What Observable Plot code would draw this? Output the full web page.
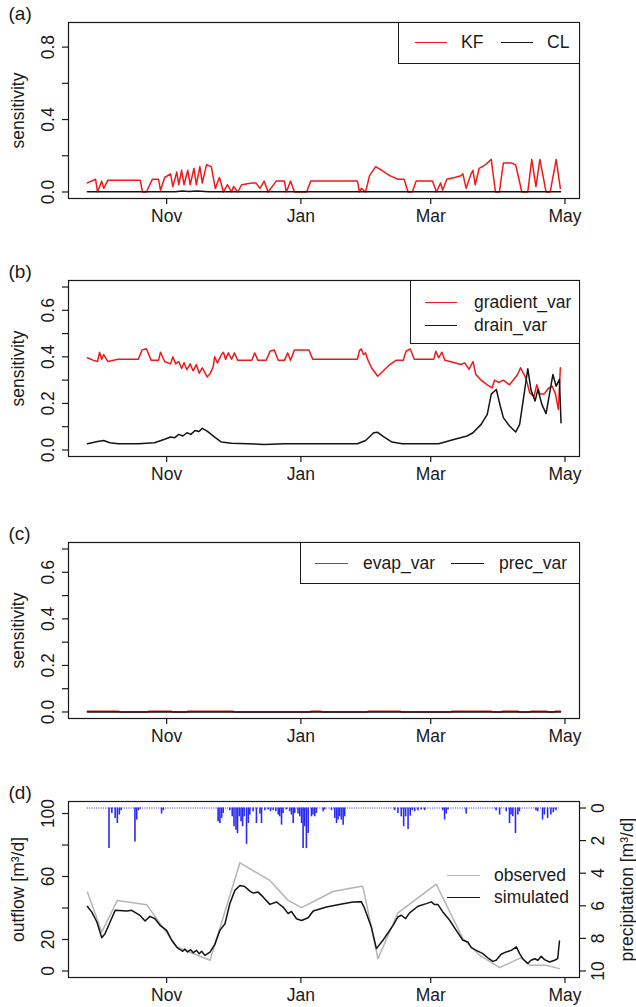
<!DOCTYPE html>
<html>
<head>
<meta charset="utf-8">
<script src="https://cdn.jsdelivr.net/npm/d3@7"></script>
<script src="https://cdn.jsdelivr.net/npm/@observablehq/plot@0.6"></script>
<style>
  html, body { margin: 0; padding: 0; background: #fff; }
  body { font-family: "Liberation Sans", Arial, sans-serif; }
  #root { position: relative; width: 636px; height: 1007px; overflow: hidden; background: #fff; }
  .panel { position: absolute; left: 0; width: 636px; }
  .legend-box { position: absolute; background: #fff; border: 1.2px solid #1a1a1a; box-sizing: border-box; }
  .lg-line { position: absolute; height: 0; }
  .lg-text { position: absolute; font-size: 17.5px; line-height: 1; color: #1a1a1a; transform: translateY(-50%); white-space: nowrap; }
</style>
</head>
<body>
<div id="root"></div>
<script>
// ---------------- DATA (day 0 = first simulated day, 26 Sep) ----------------
const startDate = "2010-09-26";
const lastDay = 215;

// x axis
const monthTickDates = ["2010-11-01", "2011-01-01", "2011-03-01", "2011-05-01"];
const monthTickLabels = ["Nov", "Jan", "Mar", "May"];

// y axes
const ylimA = [0, 0.9];
const yTicksA = [0, 0.2, 0.4, 0.6, 0.8];
const yLabelsA = ["0.0", "", "0.4", "", "0.8"];
const ylimBC = [0, 0.7];
const yTicksBC = [0, 0.1, 0.2, 0.3, 0.4, 0.5, 0.6, 0.7];
const yLabelsBC = ["0.0", "", "0.2", "", "0.4", "", "0.6", ""];
const ylimD = [0, 103.5];
const yTicksD = [0, 20, 40, 60, 80, 100];
const yLabelsD = ["0", "20", "", "60", "", "100"];
const precipLim = [0, 10];
const precipTicks = [0, 2, 4, 6, 8, 10];
const precipLabels = ["0", "2", "4", "6", "8", "10"];

// panel (a): [day, sensitivity]
const kf = [[0,0.05],[3.7,0.07],[4.6,0.0],[6.5,0.06],[7.4,0.02],[9.3,0.065],[24,0.065],[25,0.0],[26.8,0.0],[29.5,0.07],[32.3,0.07],[33.2,0.01],[35.1,0.08],[37.8,0.10],[38.8,0.03],[40.6,0.11],[41.5,0.04],[42.8,0.12],[43.9,0.04],[45.6,0.12],[46.7,0.04],[48.4,0.13],[49.5,0.04],[51.1,0.14],[52.2,0.05],[54.1,0.15],[56.3,0.14],[58.1,0.02],[60,0.08],[61.8,0.0],[63.6,0.04],[65.5,0.0],[66.4,0.03],[68.3,0.0],[70.1,0.04],[74.7,0.05],[76.6,0.05],[78.4,0.02],[80.3,0.06],[82.1,0.0],[85.8,0.06],[89.5,0.06],[90.4,0.0],[92.3,0.06],[94.1,0.0],[99.6,0.0],[101.5,0.06],[122.7,0.06],[123.6,0.0],[124.5,0.02],[126.4,0.0],[128.2,0.09],[131,0.14],[133.7,0.12],[137.4,0.09],[141.1,0.07],[143.9,0.07],[145.7,0.0],[147.6,0.0],[149.4,0.06],[156.8,0.06],[158.6,0.0],[160.5,0.05],[161.4,0.01],[163.3,0.07],[166.9,0.08],[169.7,0.09],[170.6,0.10],[172.1,0.02],[174.3,0.10],[175.2,0.12],[176.2,0.04],[178,0.13],[180.8,0.15],[183.5,0.18],[185.4,0.0],[187.2,0.0],[189,0.16],[192.8,0.16],[194.6,0.15],[197.4,0.0],[200.1,0.0],[201.9,0.18],[203.8,0.03],[205.6,0.18],[208.4,0.0],[210.3,0.0],[213,0.18],[214.9,0.02]];
const cl = [[0,0.001],[40,0.001],[43,0.005],[46,0.002],[50,0.005],[55,0.001],[215,0.001]];

// panel (b)
const gradientVar = [[0,0.396],[2.8,0.385],[4.6,0.38],[5.5,0.42],[6.5,0.39],[7.4,0.41],[9.3,0.38],[13.9,0.39],[23.1,0.39],[24.9,0.43],[26.8,0.435],[29,0.385],[32.3,0.385],[33.2,0.42],[35.1,0.38],[37.8,0.37],[38.8,0.40],[40.1,0.37],[41.5,0.38],[42.8,0.35],[43.9,0.375],[45.2,0.345],[46.7,0.37],[48,0.34],[49.5,0.367],[50.8,0.33],[52.2,0.353],[54.4,0.314],[55.9,0.33],[57.2,0.36],[57.8,0.40],[59.1,0.374],[60.9,0.41],[61.8,0.42],[62.8,0.39],[64,0.417],[65.5,0.39],[66.8,0.417],[68.3,0.385],[74.7,0.385],[76,0.417],[77.5,0.385],[81.2,0.385],[83,0.424],[84.9,0.43],[86.7,0.385],[89.5,0.385],[91,0.417],[92.3,0.385],[94.1,0.43],[100.6,0.43],[102.4,0.39],[122.7,0.39],[123.6,0.427],[124.5,0.434],[125.4,0.41],[126.4,0.417],[127.3,0.39],[129.1,0.353],[131.9,0.317],[137.4,0.367],[140.2,0.385],[143.5,0.385],[144.8,0.424],[146.7,0.434],[148.5,0.39],[157.4,0.39],[158.3,0.424],[159.6,0.396],[161.1,0.42],[162.4,0.385],[166,0.377],[169.7,0.367],[171.5,0.374],[173.4,0.346],[175.2,0.38],[176.5,0.324],[178.9,0.30],[181.7,0.28],[183.9,0.267],[185,0.30],[186.8,0.29],[189,0.30],[191.8,0.28],[195.5,0.324],[196.8,0.353],[199.2,0.31],[201,0.245],[202.9,0.23],[204.2,0.28],[205.6,0.24],[207.5,0.24],[209.4,0.264],[211.2,0.274],[212.7,0.24],[214,0.174],[214.9,0.353]];
const drainVar = [[0,0.027],[4.6,0.036],[7.4,0.041],[10.2,0.031],[13.9,0.027],[23.1,0.027],[30.5,0.031],[35.1,0.046],[37.8,0.056],[39.7,0.053],[41.5,0.067],[43.4,0.06],[45.2,0.074],[47,0.067],[48.9,0.084],[50.7,0.079],[52.2,0.093],[54.4,0.081],[58.1,0.053],[60.9,0.034],[65.5,0.029],[80.3,0.024],[89.5,0.027],[107.9,0.027],[122.7,0.027],[126.4,0.041],[130.1,0.074],[131.9,0.076],[134.7,0.056],[138.4,0.034],[143,0.027],[159.6,0.027],[166.9,0.046],[172.5,0.06],[175.2,0.074],[178.9,0.11],[181.7,0.153],[183.5,0.24],[185.8,0.26],[187.6,0.189],[189,0.139],[191.8,0.103],[194.6,0.077],[196.4,0.11],[198.3,0.231],[200.1,0.349],[201.6,0.256],[203.4,0.21],[204.7,0.26],[206.5,0.196],[208.4,0.156],[209.4,0.21],[211.5,0.324],[213,0.274],[214.5,0.303],[215.2,0.117]];

// panel (c)
const evapVar = [[0,0.003],[14,0.003],[15,0],[27,0],[28,0.003],[38,0.003],[39,0],[45,0],[45.5,0.003],[66,0.003],[67,0],[101,0],[101.5,0.003],[106,0.003],[107,0],[127,0],[127.5,0.003],[142,0.003],[143,0],[165,0],[165.5,0.003],[183.5,0.003],[184.5,0],[188,0],[188.5,0.003],[195.5,0.003],[196.5,0],[201,0],[201.5,0.003],[208.5,0.003],[209.5,0],[212,0],[212.5,0.003],[215,0.003]];
const precVar = [[0,0],[215,0]];

// panel (d): outflow [m3/d]
const observed = [[0,50.1],[6.5,24.7],[13.6,44.8],[27,42],[40.6,15.2],[55.7,6.8],[69.3,68.7],[82.9,57.5],[91.2,44.8],[97.3,40.2],[111.6,50.5],[124.5,53.8],[125.2,53.4],[132,7.8],[141.1,36.9],[158.5,55.1],[170.6,20.6],[178.2,10],[187.3,2.1],[197.1,8.5],[200.9,3.6],[208.4,3.6],[214.5,1.5]];
const simulated = [[0,41],[2,37.4],[4.3,31.1],[6.5,21.1],[8,23.7],[10.3,31.1],[12.6,38.5],[17.9,38.1],[20.1,38.5],[23.9,35.3],[26.2,31.7],[28.4,34.7],[30.7,33.2],[33,29],[36,25.8],[38.3,19.5],[40.6,15.2],[42.1,13.5],[43.3,12.5],[44.3,14],[45.5,12.1],[46.9,13.5],[48.1,11.6],[49.6,13.1],[50.8,11],[51.9,12.5],[53.4,9.9],[55.7,12],[57.9,16.9],[60.2,25.8],[62.5,30],[64.7,42.7],[67,51.2],[69.3,54.3],[71.5,53.7],[73.8,50.7],[75.3,49.5],[77.6,50.1],[79.9,46.9],[82.9,42.3],[85.9,43.8],[88.9,40.6],[91.2,36.4],[92.7,37.8],[95,33.2],[97.3,32.1],[100.3,33.8],[102.6,38.1],[108.6,40.6],[116.2,42.7],[120.7,43.8],[124.5,43.9],[126,39.6],[129,28],[131.3,14.2],[134.3,19.5],[138.9,29],[141.1,34.3],[142.6,35.4],[144.6,33.3],[146.4,36.9],[150.2,41.1],[154,42.8],[156.2,43.9],[157.8,42.2],[159.3,42.2],[161.5,37.5],[164.6,32.2],[167.6,25.8],[170.6,19.5],[172.9,18.4],[174.4,14.8],[176.7,13.1],[179.7,11],[182.4,7.8],[184.2,6.1],[185.7,6.8],[188,10.6],[190.3,12.1],[192.6,13.1],[194.9,15.3],[196.4,11],[197.8,7.8],[200.1,4.7],[201.6,6.8],[203.2,7.8],[204.7,6.8],[206.2,9.3],[207.7,7.2],[210,5.7],[212.3,6.8],[213.7,7.8],[214.5,19.1]];
// precipitation [m3/d] : [day, value]
const precipitation = [[9.8,2.49],[11.1,0.33],[12.6,0.64],[13.6,0.95],[14.5,0.43],[15.3,0.16],[21.6,2.08],[22.4,0.74],[23.2,0.16],[23.9,0.08],[33.7,0.37],[34.5,0.16],[59.4,0.85],[60.2,0.95],[61,0.64],[61.7,0.33],[64.7,0.16],[65.8,0.54],[66.6,1.15],[67.5,1.36],[68.2,1.57],[69,0.54],[69.8,0.85],[70.5,1.15],[71.2,0.54],[72.3,2.23],[73.1,0.95],[73.8,0.43],[75.3,0.23],[76.8,0.95],[78.4,0.37],[79.1,0.95],[80.6,0.16],[82.1,0.12],[83.2,0.23],[84.4,0.16],[85.6,0.23],[86.7,0.43],[87.4,0.54],[88.2,1.05],[88.9,0.33],[90.4,0.12],[91.9,0.23],[92.7,0.43],[93.5,0.95],[94.2,0.33],[95.7,0.37],[96.5,0.54],[97.3,0.95],[98,2.49],[98.7,1.15],[99.5,2.49],[100.3,1.57],[101.8,0.54],[102.5,0.43],[103.3,0.54],[104,0.33],[107.1,0.23],[107.8,0.12],[110.9,0.16],[112.4,0.64],[113.2,0.95],[113.9,0.74],[114.6,0.54],[115.4,0.74],[116.2,1.05],[116.9,0.54],[139.6,0.16],[141.1,0.33],[142.6,0.54],[143.7,1.15],[144.6,0.54],[145.7,1.32],[146.7,0.5],[147.6,0.16],[148.7,0.23],[150.2,0.16],[151.7,0.12],[153.2,0.16],[161.5,0.16],[162.3,0.74],[163,0.37],[163.8,0.12],[172.1,0.37],[185.7,0.16],[187.3,0.43],[190.3,0.23],[191.8,0.95],[192.5,0.43],[193.3,0.54],[194.5,1.57],[195.6,0.43],[196.3,0.23],[203.8,0.16],[204.6,0.23],[206.8,0.74],[207.6,0.43],[209.1,0.64],[210.6,0.43],[211.7,0.29],[212.9,0.16]];

// legends
const legendA = {labels: ["KF", "CL"], colors: ["red", "black"]};
const legendB = {labels: ["gradient_var", "drain_var"], colors: ["red", "black"]};
const legendC = {labels: ["evap_var", "prec_var"], colors: ["red", "black"]};
const legendD = {labels: ["observed", "simulated"], colors: ["gray", "black"]};

// ---------------- STYLE ----------------
const FONT = '"Liberation Sans", Arial, Helvetica, sans-serif';
const FS = 17.5;
const COL = {red: "#f01818", black: "#141414", gray: "#b4b4b4", blue: "#2a2af5", frame: "#1a1a1a"};
const W = 636, ML = 68, MR = 57, MT = 22, LW = 1.5;

const parse = d3.timeParse("%Y-%m-%d");
const day0 = parse(startDate);
const toDate = d => new Date(day0.getTime() + d * 864e5);
const monthTicks = monthTickDates.map(parse);
const pad = ([a, b]) => [a - 0.04 * (b - a), b + 0.04 * (b - a)];
const xDomain = pad([0, lastDay]).map(toDate);
const monthFmt = d => monthTickLabels[monthTicks.findIndex(t => +t === +d)] ?? "";

function line(data, color) {
  return Plot.line(data, {x: d => toDate(d[0]), y: d => d[1], stroke: COL[color], strokeWidth: LW, strokeLinejoin: "round"});
}

function panel({height, mb, ylim, yTicks, yLabels, marks, extra = [], ylab, tag}) {
  return Plot.plot({
    width: W, height, marginLeft: ML, marginRight: MR, marginTop: MT, marginBottom: mb,
    style: {fontFamily: FONT, fontSize: FS + "px", color: COL.frame, background: "transparent", overflow: "visible"},
    x: {type: "time", domain: xDomain},
    y: {domain: pad(ylim)},
    marks: [
      ...marks,
      Plot.frame({stroke: COL.frame, strokeWidth: 1.2}),
      Plot.axisX({ticks: monthTicks, tickFormat: monthFmt, tickSize: 6, tickPadding: 5, label: null, fontSize: FS, strokeWidth: 1.2}),
      Plot.axisY({ticks: yTicks, tickFormat: d => yLabels[yTicks.indexOf(d)] ?? "", tickSize: 6, tickPadding: 9,
                  tickRotate: -90, label: null, fontSize: FS, strokeWidth: 1.2}),
      ...extra,
      Plot.text([ylab], {text: d => d, frameAnchor: "left", dx: -50, rotate: -90, textAnchor: "middle", lineAnchor: "middle", fontSize: FS, fill: COL.frame}),
      Plot.text([tag], {text: d => d, frameAnchor: "top-left", dx: -60, dy: -9, textAnchor: "start", lineAnchor: "middle", fontSize: 19, fill: COL.frame})
    ]
  });
}

// ---------------- BUILD ----------------
const root = document.getElementById("root");
function addPanel(top, svg) {
  const div = document.createElement("div");
  div.className = "panel";
  div.style.top = top + "px";
  div.appendChild(svg);
  root.appendChild(div);
  return div;
}
function addLegend(div, legend, box, items) {
  if (box) {
    const b = document.createElement("div");
    b.className = "legend-box";
    Object.assign(b.style, {left: box.left + "px", top: box.top + "px", width: box.width + "px", height: box.height + "px"});
    div.appendChild(b);
  }
  legend.labels.forEach((lab, i) => {
    const it = items[i];
    const l = document.createElement("div");
    l.className = "lg-line";
    Object.assign(l.style, {left: it.x1 + "px", width: (it.x2 - it.x1) + "px", top: (it.y - LW / 2) + "px",
      borderTop: LW + "px solid " + COL[legend.colors[i]]});
    div.appendChild(l);
    const t = document.createElement("div");
    t.className = "lg-text";
    t.textContent = lab;
    Object.assign(t.style, {left: it.tx + "px", top: it.y + "px"});
    div.appendChild(t);
  });
}

// (a)
const pa = addPanel(0, panel({
  height: 260, mb: 62, ylim: ylimA, yTicks: yTicksA, yLabels: yLabelsA, ylab: "sensitivity", tag: "(a)",
  marks: [line(kf, "red"), line(cl, "black")]
}));
addLegend(pa, legendA, {left: 398, top: MT, width: 579 - 398 + 0.6, height: 42},
  [{x1: 415, x2: 447, y: 43, tx: 461}, {x1: 501, x2: 533, y: 43, tx: 547}]);

// (b)
const pb = addPanel(258, panel({
  height: 260, mb: 62, ylim: ylimBC, yTicks: yTicksBC, yLabels: yLabelsBC, ylab: "sensitivity", tag: "(b)",
  marks: [line(gradientVar, "red"), line(drainVar, "black")]
}));
addLegend(pb, legendB, {left: 410, top: MT, width: 579 - 410 + 0.6, height: 64},
  [{x1: 425, x2: 457, y: 45, tx: 474}, {x1: 425, x2: 457, y: 68, tx: 474}]);

// (c)
const pc = addPanel(519.5, panel({
  height: 260, mb: 62, ylim: ylimBC, yTicks: yTicksBC, yLabels: yLabelsBC, ylab: "sensitivity", tag: "(c)",
  marks: [line(evapVar, "red"), line(precVar, "black")]
}));
addLegend(pc, legendC, {left: 300, top: MT, width: 579 - 300 + 0.6, height: 42},
  [{x1: 315, x2: 348, y: 44.5, tx: 363}, {x1: 451, x2: 484, y: 44.5, tx: 499}]);

// (d) precipitation shares the outflow scale through a linear map (both axes padded alike)
const toOut = p => (precipLim[1] - p) / (precipLim[1] - precipLim[0]) * (ylimD[1] - ylimD[0]) + ylimD[0];
const precipTickPos = precipTicks.map(toOut);
const pd = addPanel(779, panel({
  height: 228, mb: 30, ylim: ylimD, yTicks: yTicksD, yLabels: yLabelsD, ylab: "outflow [m³/d]", tag: "(d)",
  marks: [
    Plot.ruleY([toOut(0)], {x1: () => toDate(0), x2: () => toDate(lastDay - 0.5), stroke: COL.blue, strokeWidth: 1, strokeDasharray: "1 1.3"}),
    Plot.ruleX(precipitation, {x: d => toDate(d[0]), y1: () => toOut(0), y2: d => toOut(d[1]), stroke: COL.blue, strokeWidth: 1.6}),
    line(observed, "gray"),
    line(simulated, "black")
  ],
  extra: [
    Plot.axisY({anchor: "right", ticks: precipTickPos, tickFormat: v => precipLabels[precipTickPos.indexOf(v)] ?? "",
      tickSize: 6, tickPadding: 6, tickRotate: -90, lineAnchor: "top", label: null, fontSize: FS, strokeWidth: 1.2}),
    Plot.text(["precipitation [m³/d]"], {text: d => d, frameAnchor: "right", dx: 48, rotate: -90, textAnchor: "middle", lineAnchor: "middle", fontSize: FS, fill: COL.frame})
  ]
}));
addLegend(pd, legendD, null,
  [{x1: 447, x2: 480, y: 97, tx: 494}, {x1: 447, x2: 480, y: 119, tx: 494}]);
</script>
</body>
</html>
